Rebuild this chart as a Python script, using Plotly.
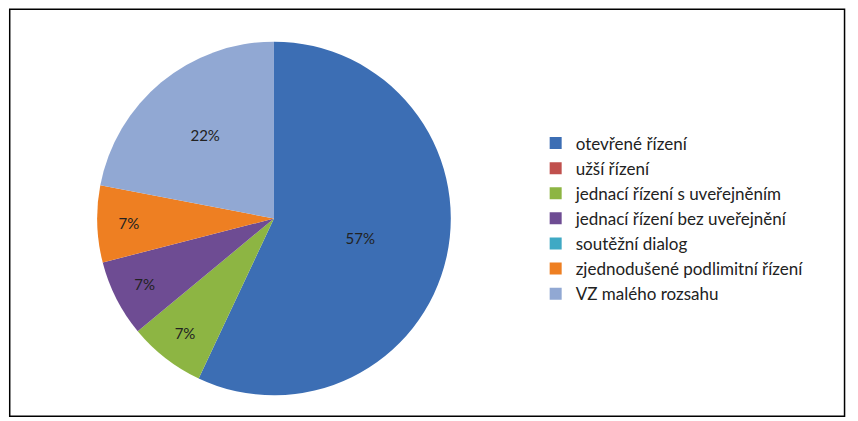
import plotly.graph_objects as go

labels = ["otevřené řízení", "užší řízení", "jednací řízení s uveřejněním",
          "jednací řízení bez uveřejnění", "soutěžní dialog",
          "zjednodušené podlimitní řízení", "VZ malého rozsahu"]
values = [57, 0, 7, 7, 0, 7, 22]
colors = ["#3C6EB4", "#C0504D", "#8DB543", "#6E4C93", "#3FA9C4", "#EE7F22", "#91A8D3"]

fig = go.Figure(go.Pie(
    labels=labels, values=values, sort=False, direction="clockwise", rotation=0,
    marker=dict(colors=colors, line=dict(color="white", width=0)),
    texttemplate="%{percent:.0%}", textposition="inside",
    textfont=dict(size=15, color="#222222", family="Lato"),
    insidetextorientation="horizontal",
    domain=dict(x=[0.07, 0.55], y=[0.08, 0.92]),
))
fig.update_layout(
    width=858, height=421, margin=dict(l=0, r=0, t=0, b=0),
    paper_bgcolor="white", plot_bgcolor="white",
    font=dict(family="Lato", size=17, color="#222222"),
    legend=dict(x=0.615, y=0.5, yanchor="middle", xanchor="left",
                font=dict(size=17), itemwidth=30, tracegroupgap=0),
    shapes=[dict(type="rect", xref="paper", yref="paper", x0=0.002, y0=0.03,
                 x1=0.975, y1=0.997, line=dict(color="black", width=1.5))],
)
fig.write_html("out.html")
